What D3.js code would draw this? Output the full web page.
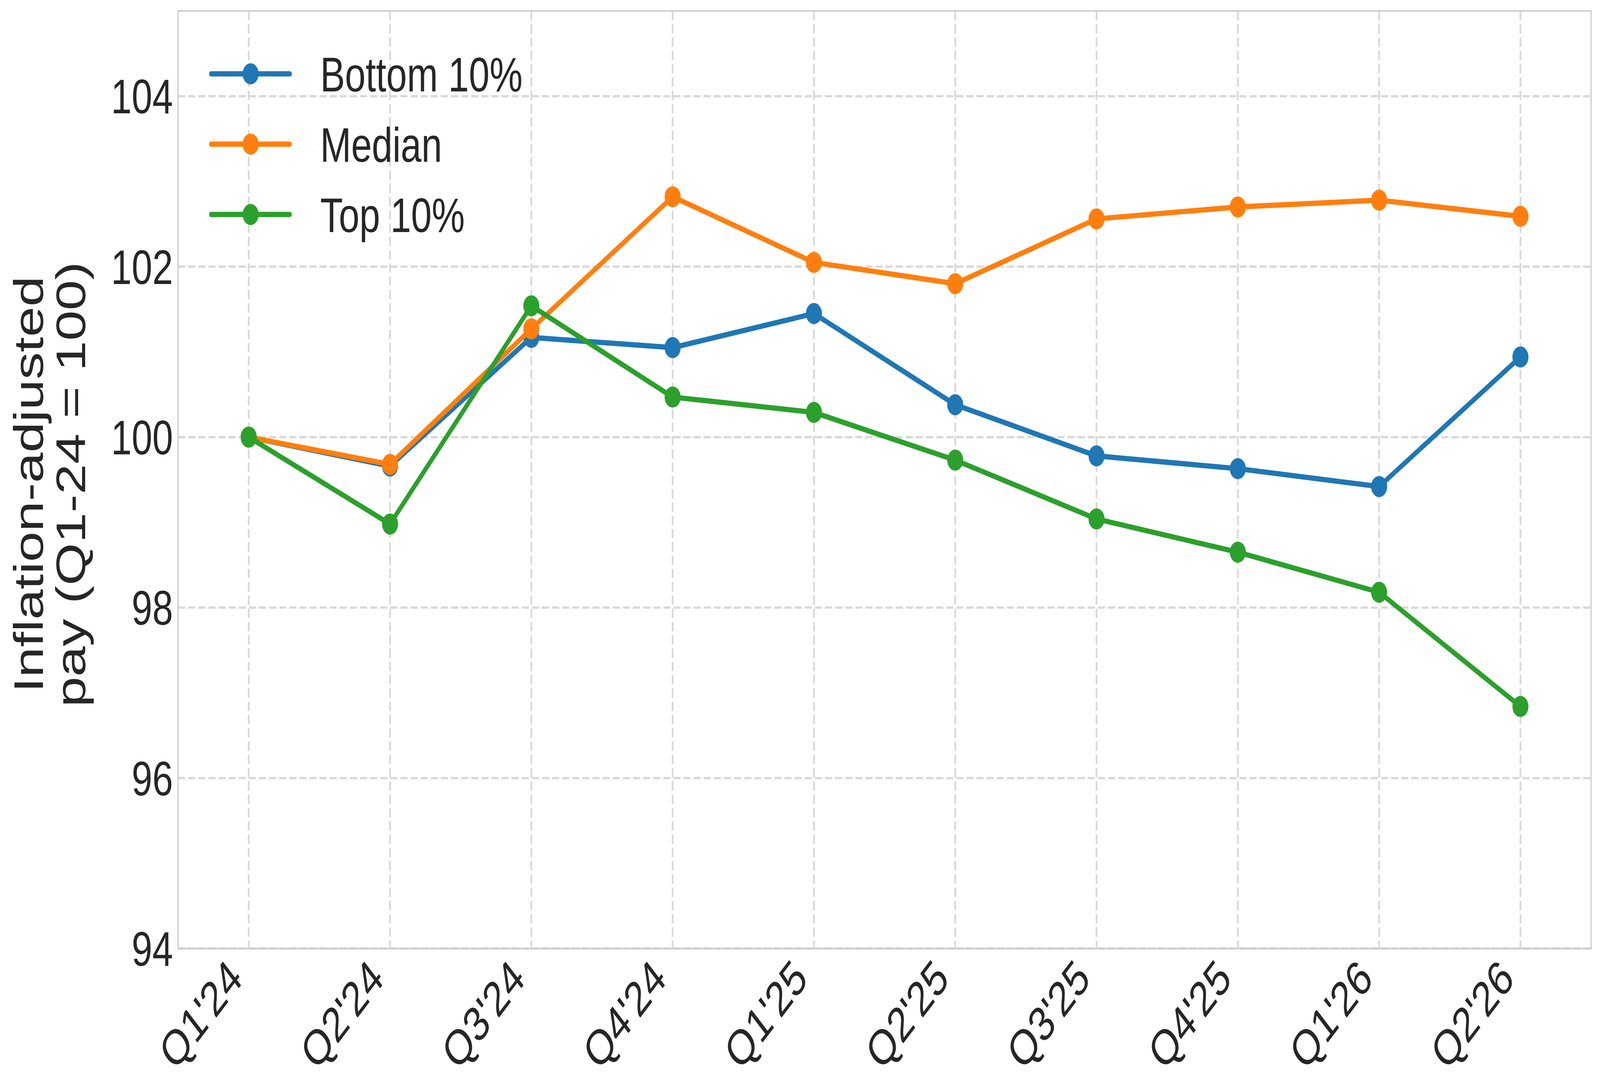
<!DOCTYPE html>
<html>
<head>
<meta charset="utf-8">
<script src="https://cdn.jsdelivr.net/npm/d3@7"></script>
<style>
  html, body { margin: 0; padding: 0; background: #fff; width: 100%; height: 100%; overflow: hidden; }
  #chart { width: 100vw; height: 100vh; }
  svg { display: block; }
  text { font-family: "Liberation Sans", Arial, sans-serif; fill: #262626; }
</style>
</head>
<body>
<div id="chart"></div>
<script>
// chart data
const quarters = ["Q1'24", "Q2'24", "Q3'24", "Q4'24", "Q1'25", "Q2'25", "Q3'25", "Q4'25", "Q1'26", "Q2'26"];
const bottom10 = [100, 99.66, 101.17, 101.05, 101.45, 100.38, 99.78, 99.63, 99.42, 100.94];
const median = [100, 99.68, 101.27, 102.82, 102.05, 101.80, 102.56, 102.70, 102.78, 102.59];
const top10 = [100, 98.98, 101.54, 100.47, 100.29, 99.73, 99.04, 98.65, 98.18, 96.84];
const yTicks = [94, 96, 98, 100, 102, 104];
const seriesNames = ["Bottom 10%", "Median", "Top 10%"];
const seriesColors = ["#1f77b4", "#ff7f0e", "#2ca02c"];

const width = 5382, height = 2785;
const plot = { left: 599, right: 5352, top: 28, bottom: 2428 };
const lineW = 13.5, markerR = 27;

// fixed 5382x2785 drawing box, stretched to fill the window
const svg = d3.select('#chart')
    .append('svg')
    .attr('viewBox', `0 0 ${width} ${height}`)
    .attr('preserveAspectRatio', 'none')
    .attr('width', '100%')
    .attr('height', '100%');

const x = d3.scaleLinear()
    .domain([-0.5, quarters.length - 0.5])
    .range([plot.left, plot.right]);

const y = d3.scaleLinear()
    .domain([94, 105])
    .range([plot.bottom, plot.top]);

// grid
const grid = svg.append('g').attr('class', 'grid');
grid.selectAll('line.h')
    .data(yTicks)
    .join('line')
    .attr('class', 'h')
    .attr('x1', plot.left)
    .attr('x2', plot.right)
    .attr('y1', d => y(d))
    .attr('y2', d => y(d))
    .attr('stroke', '#d9d9d9')
    .attr('stroke-width', 6)
    .attr('stroke-dasharray', '24,10');

grid.selectAll('line.v')
    .data(quarters)
    .join('line')
    .attr('class', 'v')
    .attr('x1', (d, i) => x(i))
    .attr('x2', (d, i) => x(i))
    .attr('y1', plot.top)
    .attr('y2', plot.bottom)
    .attr('stroke', '#d9d9d9')
    .attr('stroke-width', 6)
    .attr('stroke-dasharray', '24,10');

// frame
svg.append('rect')
    .attr('x', plot.left)
    .attr('y', plot.top)
    .attr('width', plot.right - plot.left)
    .attr('height', plot.bottom - plot.top)
    .attr('fill', 'none')
    .attr('stroke', '#cccccc')
    .attr('stroke-width', 4);

// y tick labels
svg.append('g')
    .selectAll('text')
    .data(yTicks)
    .join('text')
    .attr('x', 582)
    .attr('y', d => y(d) + 44)
    .attr('text-anchor', 'end')
    .attr('font-size', 125)
    .text(d => d);

// x tick labels, rotated
svg.append('g')
    .selectAll('text')
    .data(quarters)
    .join('text')
    .attr('transform', (d, i) => `translate(${x(i) - 15},${plot.bottom + 83}) rotate(-45)`)
    .attr('text-anchor', 'end')
    .attr('font-size', 125)
    .text(d => d);

// y axis label
const yLabel = ['Inflation-adjusted', 'pay (Q1-24 = 100)'];
svg.append('g')
    .selectAll('text')
    .data(yLabel)
    .join('text')
    .attr('transform', (d, i) => `translate(${145 + i * 141},1240) rotate(-90)`)
    .attr('text-anchor', 'middle')
    .attr('font-size', 140)
    .text(d => d);

// lines + markers
const series = [bottom10, median, top10];
const line = d3.line()
    .x((d, i) => x(i))
    .y(d => y(d));

series.forEach((vals, k) => {
    const g = svg.append('g').attr('class', 'series');
    g.append('path')
        .datum(vals)
        .attr('d', line)
        .attr('fill', 'none')
        .attr('stroke', seriesColors[k])
        .attr('stroke-width', lineW)
        .attr('stroke-linejoin', 'round');
    g.selectAll('circle')
        .data(vals)
        .join('circle')
        .attr('cx', (d, i) => x(i))
        .attr('cy', d => y(d))
        .attr('r', markerR)
        .attr('fill', seriesColors[k]);
});

// legend
const legend = svg.append('g').attr('class', 'legend');
seriesNames.forEach((name, k) => {
    const ly = 189 + k * 180;
    legend.append('line')
        .attr('x1', 710)
        .attr('x2', 975)
        .attr('y1', ly)
        .attr('y2', ly)
        .attr('stroke', seriesColors[k])
        .attr('stroke-width', lineW)
        .attr('stroke-linecap', 'round');
    legend.append('circle')
        .attr('cx', 843)
        .attr('cy', ly)
        .attr('r', markerR)
        .attr('fill', seriesColors[k]);
    legend.append('text')
        .attr('x', 1077)
        .attr('y', ly + 45)
        .attr('font-size', 125)
        .text(name);
});
</script>
</body>
</html>
